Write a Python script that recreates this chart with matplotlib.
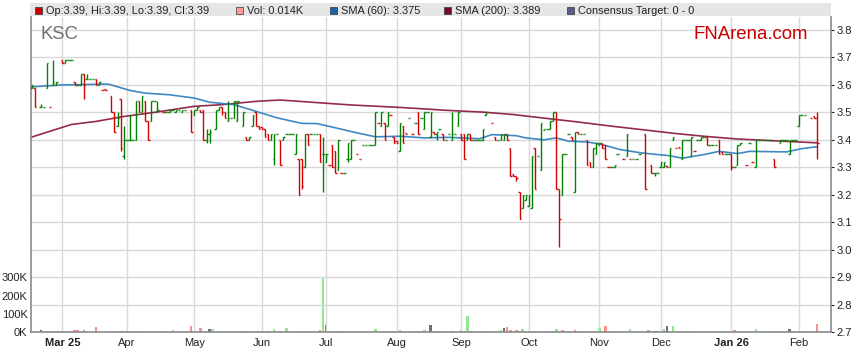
import numpy as np
import matplotlib
matplotlib.use("Agg")
import matplotlib.pyplot as plt
from matplotlib.patches import Rectangle

plt.rcParams['font.family'] = ['Liberation Sans', 'DejaVu Sans']

# ---------------- data (x = weekday number counted from 2025-03-03) ----------------
START = '2025-03-03'

day = [-10, -9, -7, -6, -5, -4, -3, -2, 0, 1,
       2, 3, 4, 5, 6, 7, 8, 9, 10, 11,
       12, 13, 14, 16, 17, 18, 19, 20, 21, 22,
       23, 24, 25, 26, 27, 28, 29, 30, 31, 33,
       34, 35, 36, 37, 38, 39, 40, 42, 43, 44,
       45, 46, 47, 48, 50, 51, 52, 53, 54, 55,
       56, 57, 59, 60, 61, 62, 63, 64, 65, 66,
       67, 68, 69, 70, 71, 72, 73, 74, 75, 76,
       77, 78, 79, 80, 81, 82, 83, 84, 85, 86,
       87, 88, 89, 90, 91, 92, 93, 94, 95, 96,
       97, 98, 99, 100, 101, 102, 103, 104, 105, 106,
       107, 108, 109, 110, 111, 112, 113, 114, 115, 116,
       117, 118, 119, 120, 121, 122, 123, 124, 125, 126,
       127, 128, 129, 130, 131, 132, 133, 134, 135, 136,
       137, 138, 140, 141, 142, 143, 144, 145, 146, 147,
       148, 149, 150, 151, 152, 153, 154, 155, 156, 157,
       158, 159, 160, 161, 162, 163, 164, 165, 166, 167,
       168, 169, 170, 171, 172, 173, 174, 175, 176, 177,
       178, 179, 180, 181, 183, 184, 185, 186, 187, 188,
       190, 192, 193, 194, 195, 196, 197, 198, 199, 200,
       201, 202, 203, 204, 205, 206, 207, 208, 209, 210,
       211, 212, 213, 214, 215, 216, 217, 218, 219, 220,
       221, 223, 224, 225, 226, 227, 228, 229, 230, 231,
       232, 234, 235, 236, 237, 238, 239, 240, 241, 242,
       244, 245, 246]

open_ = [3.59, 3.59, 3.52, 3.52, 3.59, 3.52, 3.60, 3.60, 3.69, 3.68,
         3.69, 3.69, 3.61, 3.60, 3.60, 3.64, 3.62, 3.62, 3.62, 3.62,
         3.60, 3.58, 3.585, 3.56, 3.50, 3.45, 3.55, 3.34, 3.40, 3.40,
         3.40, 3.40, 3.54, 3.50, 3.54, 3.47, 3.47, 3.54, 3.50, 3.50,
         3.50, 3.50, 3.51, 3.50, 3.51, 3.50, 3.51, 3.51, 3.49, 3.51,
         3.51, 3.51, 3.40, 3.42, 3.44, 3.51, 3.52, 3.50, 3.47, 3.48,
         3.48, 3.47, 3.45, 3.41, 3.40, 3.45, 3.50, 3.45, 3.445, 3.44,
         3.42, 3.40, 3.33, 3.42, 3.40, 3.40, 3.42, 3.42, 3.42, 3.35,
         3.33, 3.33, 3.30, 3.42, 3.42, 3.42, 3.42, 3.42, 3.35, 3.32,
         3.31, 3.38, 3.36, 3.29, 3.28, 3.28, 3.33, 3.33, 3.40, 3.35,
         3.33, 3.38, 3.38, 3.38, 3.38, 3.38, 3.46, 3.45, 3.46, 3.45,
         3.49, 3.41, 3.395, 3.36, 3.45, 3.425, 3.48, 3.42, 3.46, 3.50,
         3.48, 3.44, 3.50, 3.41, 3.43, 3.42, 3.44, 3.42, 3.40, 3.42,
         3.40, 3.42, 3.45, 3.42, 3.42, 3.40, 3.42, 3.40, 3.40, 3.40,
         3.40, 3.49, 3.46, 3.41, 3.40, 3.40, 3.40, 3.42, 3.37, 3.275,
         3.27, 3.21, 3.15, 3.18, 3.16, 3.15, 3.37, 3.34, 3.29, 3.435,
         3.44, 3.44, 3.47, 3.50, 3.22, 3.20, 3.35, 3.42, 3.41, 3.21,
         3.43, 3.42, 3.42, 3.40, 3.32, 3.30, 3.35, 3.38, 3.39, 3.38,
         3.30, 3.30, 3.30, 3.35, 3.33, 3.34, 3.33, 3.33, 3.33, 3.35,
         3.42, 3.31, 3.28, 3.28, 3.30, 3.30, 3.305, 3.30, 3.40, 3.37,
         3.375, 3.33, 3.40, 3.40, 3.34, 3.36, 3.40, 3.40, 3.41, 3.41,
         3.38, 3.38, 3.38, 3.40, 3.355, 3.35, 3.35, 3.35, 3.30, 3.31,
         3.38, 3.31, 3.39, 3.32, 3.30, 3.40, 3.40, 3.40, 3.40, 3.40,
         3.33, 3.39, 3.40, 3.40, 3.35, 3.40, 3.40, 3.45, 3.49, 3.49,
         3.48, 3.485, 3.48]

high = [3.60, 3.59, 3.53, 3.52, 3.68, 3.52, 3.69, 3.61, 3.69, 3.69,
        3.69, 3.69, 3.61, 3.60, 3.64, 3.64, 3.64, 3.62, 3.62, 3.62,
        3.61, 3.58, 3.585, 3.56, 3.50, 3.50, 3.55, 3.45, 3.40, 3.49,
        3.40, 3.54, 3.54, 3.56, 3.54, 3.47, 3.54, 3.54, 3.54, 3.50,
        3.50, 3.51, 3.51, 3.51, 3.51, 3.51, 3.51, 3.51, 3.51, 3.52,
        3.51, 3.51, 3.44, 3.44, 3.51, 3.52, 3.52, 3.50, 3.54, 3.48,
        3.54, 3.54, 3.50, 3.41, 3.41, 3.49, 3.50, 3.45, 3.445, 3.44,
        3.42, 3.42, 3.42, 3.42, 3.40, 3.41, 3.42, 3.42, 3.42, 3.42,
        3.33, 3.33, 3.42, 3.42, 3.42, 3.42, 3.42, 3.42, 3.41, 3.35,
        3.31, 3.38, 3.36, 3.40, 3.28, 3.28, 3.39, 3.40, 3.40, 3.35,
        3.33, 3.38, 3.38, 3.38, 3.38, 3.50, 3.46, 3.50, 3.46, 3.50,
        3.49, 3.41, 3.395, 3.46, 3.45, 3.425, 3.48, 3.42, 3.46, 3.50,
        3.48, 3.50, 3.50, 3.50, 3.43, 3.43, 3.44, 3.42, 3.40, 3.42,
        3.50, 3.42, 3.50, 3.42, 3.42, 3.42, 3.42, 3.40, 3.40, 3.40,
        3.44, 3.50, 3.46, 3.41, 3.40, 3.42, 3.42, 3.42, 3.37, 3.275,
        3.27, 3.21, 3.20, 3.20, 3.20, 3.34, 3.37, 3.34, 3.46, 3.44,
        3.44, 3.47, 3.50, 3.50, 3.22, 3.35, 3.35, 3.42, 3.41, 3.43,
        3.43, 3.42, 3.42, 3.40, 3.32, 3.37, 3.39, 3.39, 3.39, 3.38,
        3.30, 3.30, 3.31, 3.35, 3.33, 3.42, 3.33, 3.33, 3.33, 3.35,
        3.42, 3.31, 3.28, 3.28, 3.32, 3.32, 3.305, 3.37, 3.41, 3.37,
        3.375, 3.40, 3.40, 3.40, 3.41, 3.36, 3.40, 3.41, 3.41, 3.41,
        3.38, 3.38, 3.38, 3.40, 3.355, 3.35, 3.35, 3.35, 3.30, 3.38,
        3.39, 3.31, 3.39, 3.32, 3.40, 3.40, 3.40, 3.40, 3.40, 3.40,
        3.33, 3.40, 3.40, 3.40, 3.40, 3.40, 3.40, 3.49, 3.49, 3.49,
        3.48, 3.485, 3.50]

low = [3.59, 3.52, 3.52, 3.52, 3.59, 3.52, 3.60, 3.60, 3.68, 3.68,
       3.69, 3.69, 3.60, 3.60, 3.60, 3.55, 3.62, 3.62, 3.62, 3.60,
       3.60, 3.58, 3.58, 3.50, 3.43, 3.45, 3.36, 3.33, 3.40, 3.40,
       3.40, 3.40, 3.50, 3.50, 3.47, 3.40, 3.47, 3.54, 3.50, 3.50,
       3.50, 3.50, 3.51, 3.50, 3.51, 3.50, 3.51, 3.43, 3.49, 3.51,
       3.50, 3.40, 3.39, 3.39, 3.44, 3.51, 3.49, 3.48, 3.47, 3.48,
       3.48, 3.47, 3.45, 3.40, 3.40, 3.45, 3.45, 3.44, 3.44, 3.41,
       3.40, 3.40, 3.31, 3.42, 3.31, 3.40, 3.42, 3.42, 3.42, 3.35,
       3.20, 3.22, 3.30, 3.38, 3.42, 3.42, 3.42, 3.32, 3.21, 3.32,
       3.31, 3.30, 3.28, 3.29, 3.28, 3.28, 3.32, 3.33, 3.40, 3.35,
       3.33, 3.38, 3.38, 3.38, 3.38, 3.38, 3.46, 3.45, 3.40, 3.45,
       3.49, 3.39, 3.39, 3.36, 3.39, 3.42, 3.48, 3.42, 3.46, 3.42,
       3.48, 3.44, 3.50, 3.41, 3.42, 3.40, 3.44, 3.40, 3.40, 3.42,
       3.40, 3.42, 3.45, 3.40, 3.33, 3.40, 3.40, 3.40, 3.40, 3.40,
       3.40, 3.49, 3.46, 3.40, 3.40, 3.40, 3.40, 3.40, 3.27, 3.27,
       3.25, 3.11, 3.15, 3.18, 3.16, 3.15, 3.22, 3.34, 3.29, 3.435,
       3.44, 3.44, 3.47, 3.22, 3.01, 3.20, 3.35, 3.42, 3.40, 3.21,
       3.42, 3.42, 3.42, 3.31, 3.30, 3.30, 3.35, 3.38, 3.37, 3.33,
       3.30, 3.30, 3.30, 3.35, 3.33, 3.34, 3.33, 3.33, 3.33, 3.35,
       3.22, 3.28, 3.27, 3.28, 3.30, 3.30, 3.30, 3.30, 3.40, 3.37,
       3.37, 3.33, 3.40, 3.40, 3.34, 3.36, 3.40, 3.40, 3.41, 3.38,
       3.38, 3.38, 3.38, 3.35, 3.35, 3.35, 3.35, 3.29, 3.30, 3.31,
       3.38, 3.31, 3.39, 3.32, 3.30, 3.40, 3.40, 3.40, 3.40, 3.40,
       3.30, 3.39, 3.40, 3.40, 3.35, 3.40, 3.40, 3.45, 3.49, 3.49,
       3.48, 3.48, 3.33]

close = [3.60, 3.52, 3.52, 3.52, 3.68, 3.52, 3.61, 3.61, 3.68, 3.69,
         3.69, 3.69, 3.60, 3.60, 3.64, 3.60, 3.62, 3.62, 3.62, 3.60,
         3.61, 3.58, 3.58, 3.50, 3.43, 3.48, 3.37, 3.40, 3.40, 3.40,
         3.40, 3.54, 3.50, 3.56, 3.47, 3.40, 3.54, 3.54, 3.51, 3.50,
         3.50, 3.51, 3.51, 3.51, 3.51, 3.51, 3.51, 3.43, 3.51, 3.52,
         3.50, 3.40, 3.42, 3.43, 3.51, 3.52, 3.50, 3.48, 3.48, 3.48,
         3.54, 3.54, 3.50, 3.40, 3.41, 3.49, 3.45, 3.44, 3.44, 3.41,
         3.40, 3.42, 3.42, 3.42, 3.31, 3.41, 3.42, 3.42, 3.42, 3.42,
         3.20, 3.23, 3.42, 3.38, 3.42, 3.42, 3.42, 3.32, 3.35, 3.35,
         3.31, 3.30, 3.28, 3.40, 3.28, 3.28, 3.39, 3.40, 3.40, 3.35,
         3.33, 3.38, 3.38, 3.38, 3.38, 3.50, 3.46, 3.50, 3.40, 3.50,
         3.49, 3.39, 3.39, 3.46, 3.39, 3.42, 3.48, 3.42, 3.46, 3.42,
         3.48, 3.50, 3.50, 3.50, 3.42, 3.43, 3.44, 3.40, 3.40, 3.42,
         3.42, 3.42, 3.50, 3.40, 3.33, 3.42, 3.40, 3.40, 3.40, 3.40,
         3.44, 3.50, 3.46, 3.40, 3.40, 3.42, 3.42, 3.40, 3.27, 3.27,
         3.26, 3.11, 3.20, 3.20, 3.20, 3.34, 3.22, 3.34, 3.46, 3.44,
         3.44, 3.47, 3.50, 3.22, 3.11, 3.35, 3.35, 3.42, 3.40, 3.43,
         3.42, 3.42, 3.42, 3.31, 3.30, 3.37, 3.39, 3.39, 3.37, 3.33,
         3.30, 3.30, 3.31, 3.35, 3.33, 3.42, 3.33, 3.33, 3.33, 3.35,
         3.22, 3.28, 3.28, 3.28, 3.32, 3.32, 3.30, 3.37, 3.41, 3.37,
         3.37, 3.40, 3.40, 3.40, 3.41, 3.36, 3.40, 3.41, 3.41, 3.38,
         3.38, 3.38, 3.38, 3.35, 3.35, 3.35, 3.35, 3.30, 3.30, 3.38,
         3.39, 3.31, 3.39, 3.32, 3.40, 3.40, 3.40, 3.40, 3.40, 3.40,
         3.30, 3.40, 3.40, 3.40, 3.40, 3.40, 3.40, 3.49, 3.49, 3.49,
         3.48, 3.48, 3.39]

# moving averages (day, value)
sma60_day = [-10, 0, 15, 22, 27, 35, 43, 48, 56, 63, 70, 78, 83, 87, 95, 102,
             110, 118, 126, 136, 140, 148, 151, 157, 161, 165, 171, 175, 182,
             189, 198, 202, 209, 214, 220, 224, 236, 241, 246]
sma60_val = [3.593, 3.600, 3.603, 3.580, 3.570, 3.564, 3.552, 3.537, 3.528, 3.504,
             3.480, 3.460, 3.459, 3.449, 3.428, 3.411, 3.413, 3.407, 3.409, 3.404,
             3.419, 3.415, 3.407, 3.400, 3.407, 3.395, 3.392, 3.385, 3.364, 3.352,
             3.342, 3.333, 3.346, 3.358, 3.350, 3.358, 3.356, 3.368, 3.375]
sma200_day = [-10, 3, 11, 20, 30, 43, 52, 63, 71, 85, 94, 110, 126, 137, 147,
              157, 168, 178, 189, 199, 209, 220, 231, 246]
sma200_val = [3.410, 3.456, 3.467, 3.485, 3.500, 3.522, 3.528, 3.540, 3.545, 3.534,
              3.527, 3.518, 3.507, 3.501, 3.492, 3.479, 3.465, 3.451, 3.437, 3.424,
              3.413, 3.403, 3.397, 3.389]

# volume (thousands of shares); direction: u = up, d = down, n = unchanged
vol_day = [-7, -5, -3, 4, 5, 7, 11, 18, 19, 20, 26, 33, 36, 42, 45, 48, 49, 58, 59,
           67, 69, 71, 73, 77, 80, 84, 85, 86, 88, 90, 91, 102, 108, 110, 115, 116,
           118, 120, 121, 122, 124, 127, 130, 131, 132, 133, 137, 138, 143, 144,
           145, 146, 148, 149, 150, 153, 159, 160, 161, 163, 164, 167, 168, 175,
           177, 180, 185, 191, 193, 194, 196, 197, 199, 200, 203, 206, 219, 226,
           232, 234, 237, 240, 246]
vol_k = [9, 5, 5, 13, 13, 11, 27, 5, 5, 5, 5, 5, 9, 31, 22, 16, 16, 5, 5,
         5, 16, 7, 22, 5, 5, 13, 295, 38, 7, 5, 7, 14, 5, 9, 5, 5,
         11, 40, 5, 5, 5, 5, 11, 7, 87, 5, 5, 5, 11, 22,
         25, 11, 11, 7, 14, 5, 5, 7, 16, 11, 5, 11, 5, 24,
         31, 5, 16, 11, 5, 5, 18, 31, 31, 5, 5, 5, 9, 16,
         5, 5, 16, 5, 45]
vol_dir = ['n', 'u', 'u', 'd', 'd', 'd', 'd', 'u', 'd', 'u', 'u', 'd', 'u', 'd', 'd', 'n', 'u', 'd', 'u',
           'n', 'u', 'd', 'u', 'd', 'd', 'd', 'u', 'n', 'd', 'u', 'd', 'u', 'd', 'u', 'u', 'd',
           'u', 'n', 'u', 'u', 'd', 'n', 'd', 'd', 'u', 'd', 'u', 'u', 'u', 'n',
           'd', 'd', 'd', 'd', 'u', 'u', 'n', 'u', 'u', 'd', 'u', 'd', 'u', 'u',
           'd', 'u', 'u', 'd', 'n', 'n', 'u', 'n', 'u', 'u', 'u', 'u', 'd', 'u',
           'd', 'u', 'n', 'u', 'd']

month_starts = ['2025-03-01', '2025-04-01', '2025-05-01', '2025-06-01', '2025-07-01',
                '2025-08-01', '2025-09-01', '2025-10-01', '2025-11-01', '2025-12-01',
                '2026-01-01', '2026-02-01']
month_labels = ['Mar 25', 'Apr', 'May', 'Jun', 'Jul', 'Aug', 'Sep', 'Oct', 'Nov', 'Dec',
                'Jan 26', 'Feb']
legend_text = ['Op:3.39, Hi:3.39, Lo:3.39, Cl:3.39', 'Vol: 0.014K', 'SMA (60): 3.375',
               'SMA (200): 3.389', 'Consensus Target: 0 - 0']

# ---------------- drawing ----------------
W, H = 859, 363
fig = plt.figure(figsize=(W / 100, H / 100), dpi=100)
fig.patch.set_facecolor('white')

PL, PR, PT, PB = 31, 831, 17, 332
rect = [PL / W, (H - PB) / H, (PR - PL) / W, (PB - PT) / H]
ax = fig.add_axes(rect)
axv = ax.twinx()
ax.set_zorder(2)
axv.set_zorder(1)
ax.patch.set_visible(False)

GREEN, RED = '#008000', '#d00000'
grid_c = '#d8d8d8'
FS = 8.0

# colours from open/close, ties decided by previous close
cols = []
prev = None
for o, c in zip(open_, close):
    if c > o:
        up = True
    elif c < o:
        up = False
    else:
        up = True if prev is None else c >= prev
    cols.append(GREEN if up else RED)
    prev = c

d = np.array(day, dtype=float)
tick = 0.45
ax.vlines(d, low, high, colors=cols, lw=1.0, zorder=3)
ax.hlines(open_, d - tick, d, colors=cols, lw=1.0, zorder=3)
ax.hlines(close, d, d + tick, colors=cols, lw=1.0, zorder=3)

ax.plot(sma200_day, sma200_val, color='#8a1438', lw=1.2, alpha=0.9, zorder=2.5)
ax.plot(sma60_day, sma60_val, color='#2b7bbd', lw=1.2, alpha=0.9, zorder=2.6)

vcol = {'u': '#8ee88e', 'd': '#ff9090', 'n': '#707070'}
axv.bar(vol_day, np.array(vol_k) * 1000, width=0.8,
        color=[vcol[v] for v in vol_dir], zorder=2)

# axes ranges (weekday scale)
month_pos = np.busday_count(START, np.busday_offset(month_starts, 0, roll='forward'))
ax.set_xlim(-10.2, 250.5)
ax.set_ylim(2.7, 3.8 + 13 / 274.5)
axv.set_ylim(0, 315 / 18.23 * 100000)

ax.set_xticks(month_pos)
ax.set_xticklabels(month_labels)
for lbl in ax.get_xticklabels():
    if lbl.get_text() in ('Mar 25', 'Jan 26'):
        lbl.set_fontweight('bold')
ax.set_yticks(np.round(np.arange(2.7, 3.81, 0.1), 1))
ax.set_yticklabels(['%.1f' % v for v in np.arange(2.7, 3.81, 0.1)])
ax.yaxis.tick_right()
ax.tick_params(axis='y', direction='out', length=2.5, width=0.8, pad=1.5,
               labelsize=FS, colors='#222222')
ax.tick_params(axis='x', length=0, pad=4, labelsize=FS, colors='#222222')
ax.grid(True, color=grid_c, lw=1.0, zorder=0)
ax.set_axisbelow(True)

axv.yaxis.tick_left()
axv.set_yticks([0, 100000, 200000, 300000])
axv.set_yticklabels(['0K', '100K', '200K', '300K'])
axv.tick_params(axis='y', length=0, pad=2.5, labelsize=FS, colors='#222222')

for a in (ax, axv):
    for s in a.spines.values():
        s.set_visible(False)
for s in ('left', 'right', 'bottom'):
    ax.spines[s].set_visible(True)
    ax.spines[s].set_color('#8a8a8a')
    ax.spines[s].set_linewidth(1.2)

# legend strip
def fx(x):
    return x / W

def fy(y):
    return 1 - y / H

fig.patches.append(Rectangle((fx(30), fy(16)), (PR - 30) / W, 13 / H,
                             transform=fig.transFigure, facecolor='#e6e6e6',
                             edgecolor='none', zorder=0))
leg_x = [35, 236, 330, 444, 567]
leg_c = ['#cc0000', '#ff9a9a', '#1a64a8', '#7a0a2c', '#5c5c8c']
for x, c, t in zip(leg_x, leg_c, legend_text):
    fig.patches.append(Rectangle((fx(x), fy(14)), 7 / W, 7 / H, transform=fig.transFigure,
                                 facecolor=c, edgecolor='#333333', lw=0.5, zorder=1))
    fig.text(fx(x + 11), fy(10.5), t, fontsize=7.9, color='#222222', va='center', ha='left')

fig.text(fx(41), fy(39), 'KSC', fontsize=13.3, color='#707070', ha='left', va='baseline')
fig.text(fx(808), fy(39), 'FNArena.com', fontsize=13.4, color='#cc0000', ha='right',
         va='baseline')

fig.savefig('out.png', dpi=100)
